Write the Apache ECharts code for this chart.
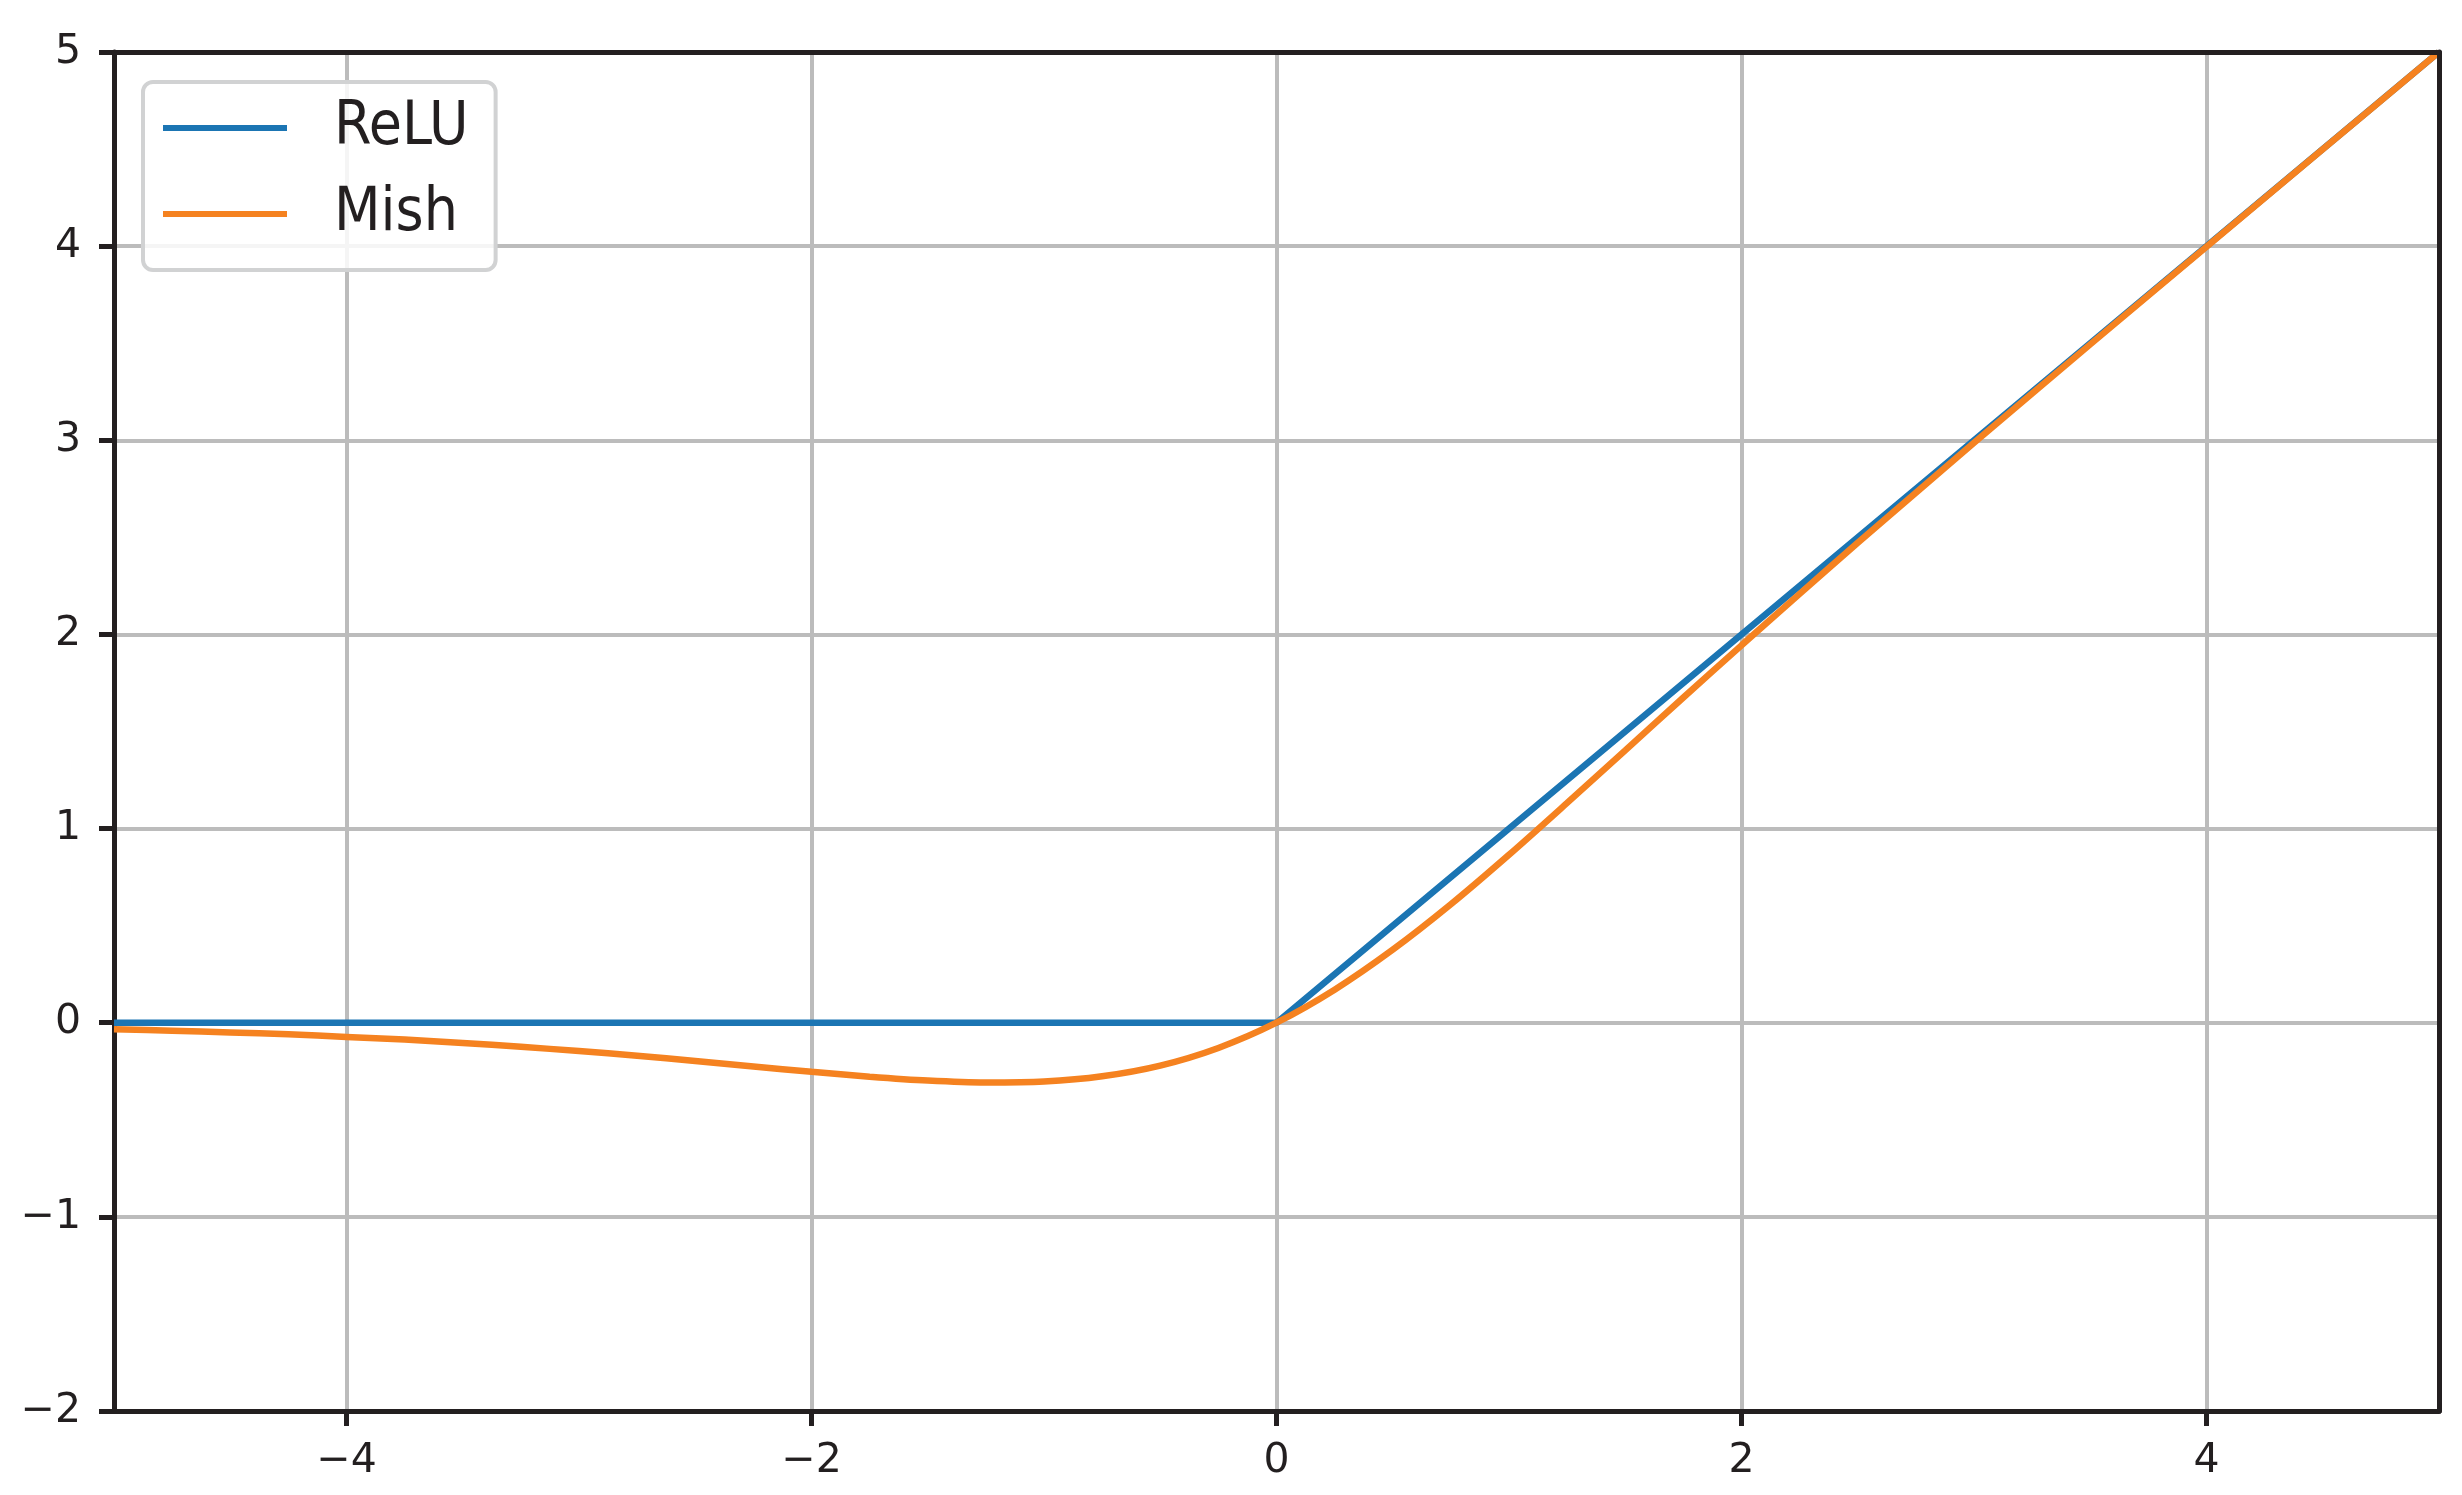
<!DOCTYPE html>
<html>
<head>
<meta charset="utf-8">
<title>ReLU vs Mish</title>
<script src="https://cdn.jsdelivr.net/npm/echarts@6/dist/echarts.min.js"></script>
<style>
    html, body {
        margin: 0;
        padding: 0;
        background: #ffffff;
    }

    #chart {
        width: 2462px;
        height: 1495px;
    }
</style>
</head>
<body>
<div id="chart"></div>
<script>
// values
const xTicks = [-4, -2, 0, 2, 4];

const reluX = [-5, 0, 5];
const reluY = [0, 0, 5];

const mishX = [
    -5, -4.75, -4.5, -4.25, -4, -3.75, -3.5, -3.25, -3, -2.75, -2.5, -2.25,
    -2, -1.75, -1.5, -1.25, -1, -0.75, -0.5, -0.25, 0, 0.25, 0.5, 0.75,
    1, 1.25, 1.5, 1.75, 2, 2.25, 2.5, 2.75, 3, 3.5, 4, 4.5, 5
];
const mishY = [
    -0.034, -0.041, -0.050, -0.060, -0.073, -0.087, -0.104, -0.124, -0.146, -0.170, -0.197, -0.225,
    -0.253, -0.278, -0.298, -0.308, -0.303, -0.276, -0.221, -0.130, 0, 0.170, 0.376, 0.610,
    0.865, 1.132, 1.403, 1.675, 1.944, 2.209, 2.472, 2.730, 2.987, 3.494, 3.997, 4.499, 5.000
];

const ink = '#231f20';
const font = 'DejaVu Sans';

const toPairs = (xs, ys) => xs.map((x, i) => [x, ys[i]]);
const minus = (v) => String(v).replace('-', '\u2212');

const chart = echarts.init(document.getElementById('chart'), null, { renderer: 'canvas' });

// bare axes used only to close the frame on top and right
const frameAxis = (position) => ({
    type: 'value',
    position: position,
    min: position === 'top' ? -5 : -2,
    max: 5,
    z: 5,
    axisLine: { show: true, onZero: false, lineStyle: { color: ink, width: 5 } },
    axisTick: { show: false },
    axisLabel: { show: false },
    splitLine: { show: false }
});

const option = {
    backgroundColor: '#ffffff',
    animation: false,
    grid: {
        left: 114,
        right: 23,
        top: 52,
        bottom: 84
    },
    legend: {
        orient: 'vertical',
        left: 143,
        top: 82,
        padding: [16, 27, 26, 20],
        itemWidth: 124,
        itemHeight: 6,
        itemGap: 26,
        icon: 'rect',
        backgroundColor: 'rgba(255,255,255,0.85)',
        borderColor: '#d1d2d3',
        borderWidth: 4,
        borderRadius: 10,
        textStyle: {
            fontFamily: 'DejaVu Sans Condensed, ' + font,
            fontSize: 60,
            lineHeight: 60,
            color: ink,
            padding: [0, 0, 0, 42]
        },
        data: ['ReLU', 'Mish']
    },
    xAxis: [
        {
            type: 'value',
            position: 'bottom',
            min: -5,
            max: 5,
            splitNumber: 5,
            axisLine: { show: true, onZero: false, lineStyle: { color: ink, width: 5 } },
            axisTick: {
                show: true,
                customValues: xTicks,
                length: 15,
                lineStyle: { color: ink, width: 5 }
            },
            axisLabel: {
                customValues: xTicks,
                margin: 30,
                fontFamily: font,
                fontSize: 41,
                color: ink,
                formatter: minus
            },
            splitLine: { show: true, lineStyle: { color: '#bcbcbc', width: 4 } }
        },
        frameAxis('top')
    ],
    yAxis: [
        {
            type: 'value',
            position: 'left',
            min: -2,
            max: 5,
            interval: 1,
            axisLine: { show: true, onZero: false, lineStyle: { color: ink, width: 5 } },
            axisTick: { show: true, length: 15, lineStyle: { color: ink, width: 5 } },
            axisLabel: {
                margin: 33,
                fontFamily: font,
                fontSize: 41,
                color: ink,
                formatter: minus
            },
            splitLine: { show: true, lineStyle: { color: '#bcbcbc', width: 4 } }
        },
        frameAxis('right')
    ],
    series: [
        {
            name: 'ReLU',
            type: 'line',
            xAxisIndex: 0,
            yAxisIndex: 0,
            showSymbol: false,
            symbol: 'none',
            color: '#1b75b3',
            lineStyle: { width: 6.5, color: '#1b75b3' },
            data: toPairs(reluX, reluY)
        },
        {
            name: 'Mish',
            type: 'line',
            xAxisIndex: 0,
            yAxisIndex: 0,
            showSymbol: false,
            symbol: 'none',
            smooth: 0.3,
            color: '#f58220',
            lineStyle: { width: 6.5, color: '#f58220' },
            data: toPairs(mishX, mishY)
        }
    ]
};

chart.setOption(option);
window.addEventListener('resize', () => {
    chart.resize();
});
</script>
</body>
</html>
